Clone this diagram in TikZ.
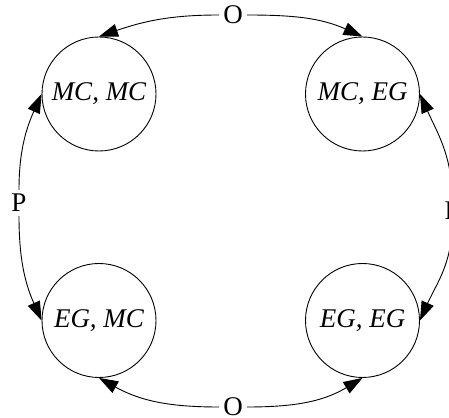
\documentclass[tikz,border=0pt]{standalone}
\usepackage{fontspec}
\setmainfont{Liberation Serif}
\usetikzlibrary{arrows.meta}
\begin{document}
\begin{tikzpicture}[x=1pt,y=1pt,
  state/.style={draw,circle,minimum size=114pt,inner sep=0pt,line width=0.9pt,font=\fontsize{27}{31}\selectfont\itshape},
  lbl/.style={inner sep=4pt,font=\fontsize{27}{31}\selectfont},
  edge/.style={line width=0.9pt,-{Triangle[length=19pt,width=13pt]}}]
\useasboundingbox (0,0) rectangle (449,417);
\node[state] (mm) at (99,323) {MC, MC};
\node[state] (me) at (362.5,323) {MC, EG};
\node[state] (em) at (99,96.5) {EG, MC};
\node[state] (ee) at (362.5,96.5) {EG, EG};
\node[lbl] (ot) at (233,402) {O};
\node[lbl] (ob) at (233,10) {O};
\node[lbl] (pl) at (19,214) {P};
\node[lbl] (pr) at (452,206) {P};
\draw[edge] (ot.west) to[out=180,in=19] (mm.north);
\draw[edge] (ot.east) to[out=0,in=156] (me.north);
\draw[edge] (ob.west) to[out=180,in=-29] (em.south);
\draw[edge] (ob.east) to[out=0,in=211] (ee.south);
\draw[edge] (pl.north) to[out=90,in=246] (mm.west);
\draw[edge] (pl.south) to[out=-90,in=114] (em.west);
\draw[edge] (pr.north) to[out=90,in=-66] (me.east);
\draw[edge] (pr.south) to[out=-90,in=66] (ee.east);
\end{tikzpicture}
\end{document}
